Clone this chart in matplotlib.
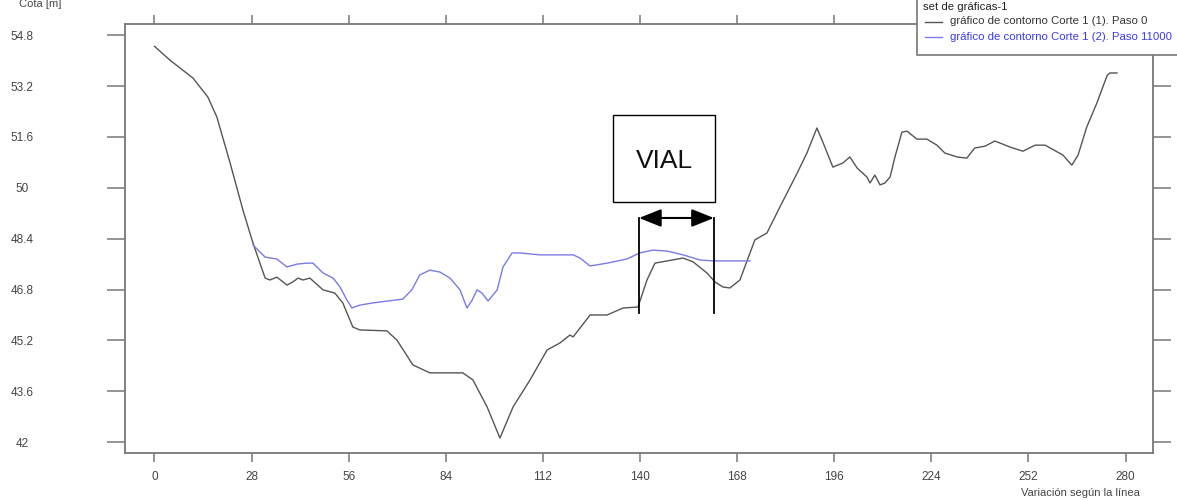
import matplotlib
matplotlib.use("Agg")
import matplotlib.pyplot as plt
from matplotlib.patches import Rectangle, FancyArrowPatch, ArrowStyle
from matplotlib.lines import Line2D

# ---- data ----
paso0_x = [0, 4.5, 11.1, 15.4, 18.0, 21.8, 25.5, 28.4, 31.9, 33.3, 35.3, 38.2, 39.9, 41.4,
           42.8, 44.8, 48.6, 52.0, 54.3, 57.2, 59.2, 67.0, 69.9, 74.5, 79.4, 88.9, 91.8,
           95.9, 99.6, 103.4, 108.3, 113.2, 116.9, 119.8, 120.7, 122.7, 125.6, 130.5,
           135.1, 139.4, 142.0, 144.3, 147.8, 152.4, 155.3, 159.3, 161.6, 163.9, 165.9,
           168.8, 173.1, 176.6, 180.3, 185.3, 188.1, 191.0, 192.8, 195.6, 198.5, 200.5,
           202.6, 205.4, 206.3, 207.7, 209.2, 210.6, 212.1, 213.5, 215.5, 217.0, 219.8,
           222.7, 225.6, 227.9, 231.4, 234.2, 236.5, 239.5, 242.3, 246.7, 250.4, 253.9,
           256.8, 261.9, 264.5, 266.3, 268.8, 271.7, 274.7, 275.5, 277.5]
paso0_y = [54.45, 54.01, 53.45, 52.85, 52.22, 50.78, 49.30, 48.26, 47.16, 47.10, 47.19, 46.94,
           47.04, 47.16, 47.10, 47.16, 46.79, 46.69, 46.38, 45.62, 45.53, 45.50, 45.21, 44.43,
           44.18, 44.18, 43.96, 43.11, 42.13, 43.11, 43.96, 44.90, 45.12, 45.37, 45.31, 45.59,
           46.00, 46.00, 46.22, 46.25, 47.10, 47.63, 47.70, 47.79, 47.67, 47.32, 47.04, 46.88,
           46.85, 47.10, 48.36, 48.58, 49.39, 50.46, 51.09, 51.88, 51.41, 50.65, 50.78, 50.97,
           50.62, 50.34, 50.15, 50.40, 50.09, 50.15, 50.34, 50.97, 51.75, 51.78, 51.53, 51.53,
           51.34, 51.09, 50.97, 50.93, 51.25, 51.31, 51.47, 51.28, 51.15, 51.34, 51.34, 51.03,
           50.71, 51.03, 51.91, 52.66, 53.54, 53.61, 53.61]

paso11000_x = [28.4, 31.9, 35.3, 38.2, 41.1, 44.0, 45.7, 48.6, 51.5, 53.5, 55.5, 56.9, 59.2,
               63.0, 71.6, 74.2, 76.5, 79.4, 82.3, 85.2, 88.1, 90.1, 91.6, 93.0, 94.4, 96.2,
               98.8, 100.5, 103.1, 105.4, 111.1, 120.7, 122.7, 125.6, 130.5, 136.2, 139.9,
               143.7, 147.8, 152.4, 157.3, 161.0, 169.7, 171.7]
paso11000_y = [48.20, 47.82, 47.76, 47.51, 47.60, 47.63, 47.63, 47.32, 47.16, 46.88, 46.47,
               46.22, 46.31, 46.38, 46.50, 46.79, 47.26, 47.41, 47.35, 47.16, 46.79, 46.22,
               46.47, 46.79, 46.69, 46.44, 46.79, 47.51, 47.95, 47.95, 47.89, 47.89, 47.79,
               47.54, 47.63, 47.76, 47.95, 48.04, 48.01, 47.89, 47.73, 47.70, 47.70, 47.70]

x_ticks = [0, 28, 56, 84, 112, 140, 168, 196, 224, 252, 280]
y_ticks = [42, 43.6, 45.2, 46.8, 48.4, 50, 51.6, 53.2, 54.8]
y_tick_labels = ["42", "43.6", "45.2", "46.8", "48.4", "50", "51.6", "53.2", "54.8"]

legend_title = "set de gráficas-1"
series_labels = ["gráfico de contorno Corte 1 (1). Paso 0",
                 "gráfico de contorno Corte 1 (2). Paso 11000"]
vial_label = "VIAL"
vial_limits = [139.7, 161.3]

# ---- figure ----
plt.rcParams['font.family'] = ['Liberation Sans', 'DejaVu Sans']
W, H = 1177, 500
fig = plt.figure(figsize=(W / 100, H / 100), dpi=100)
ax = fig.add_axes([125 / W, 1 - 453 / H, (1153 - 125) / W, (453 - 24) / H])

col_black = '#555555'
col_blue = '#7a7ae6'
ax.plot(paso0_x, paso0_y, color=col_black, lw=1.0, zorder=3)
ax.plot(paso11000_x, paso11000_y, color=col_blue, lw=1.0, zorder=4)

ax.set_xlim(-8.5, 287.9)
ax.set_ylim(41.66, 55.15)
ax.set_xticks(x_ticks)
ax.set_xticklabels([str(v) for v in x_ticks])
ax.set_yticks(y_ticks)
ax.set_yticklabels(y_tick_labels)

for s in ax.spines.values():
    s.set_color('#777777')
    s.set_linewidth(1.3)

ax.tick_params(axis='x', which='major', direction='out', length=6.5, width=1.1,
               color='#777777', top=True, bottom=True, labelsize=8.5,
               labelcolor='#444444', pad=6.5)
ax.tick_params(axis='y', which='major', direction='out', length=13, width=1.1,
               color='#777777', left=True, right=True, labelsize=8.5,
               labelcolor='#444444', pad=61)
for lbl in ax.get_yticklabels():
    lbl.set_horizontalalignment('center')

# VIAL annotation
ax.add_patch(Rectangle((132.2, 49.55), 161.6 - 132.2, 52.29 - 49.55, fill=False,
                       edgecolor='black', lw=1.0, zorder=5))
ax.text(146.9, 50.85, vial_label, fontsize=19, ha='center', va='center',
        color='#111111', zorder=6)
for xv in vial_limits:
    ax.plot([xv, xv], [46.06, 49.05], color='black', lw=1.3, zorder=5)
arr = FancyArrowPatch((vial_limits[0], 49.05), (vial_limits[1], 49.05),
                      arrowstyle=ArrowStyle('<|-|>', head_length=0.4, head_width=0.16),
                      mutation_scale=34, color='black', lw=1.5, shrinkA=0, shrinkB=0,
                      zorder=6)
ax.add_patch(arr)

# axis labels
fig.text(40 / W, 1 - 7 / H, "Cota [m]", fontsize=8, color='#444444',
         ha='center', va='baseline')
fig.text(1080 / W, 1 - 493 / H, "Variación según la línea", fontsize=8,
         color='#444444', ha='center', va='center')

# legend (manual, to match position partially outside figure)
fig.add_artist(Rectangle((917 / W, 1 - 55 / H), (1190 - 917) / W, 65 / H,
                         transform=fig.transFigure, facecolor='white',
                         edgecolor='#777777', lw=1.2, zorder=10))
fig.text(923 / W, 1 - 7 / H, legend_title, fontsize=8.2, color='#222222',
         ha='left', va='center', zorder=11)
for i, (lab, c, tc) in enumerate(zip(series_labels, [col_black, col_blue],
                                     ['#333333', '#3a3aee'])):
    yy = 1 - (21.5 + 15 * i) / H
    fig.add_artist(Line2D([925 / W, 942 / W], [yy, yy], transform=fig.transFigure,
                          color=c, lw=1.0, zorder=11))
    fig.text(950 / W, yy, lab, fontsize=8.2, color=tc, ha='left', va='center',
             zorder=11)

fig.savefig("out.png", dpi=100)
